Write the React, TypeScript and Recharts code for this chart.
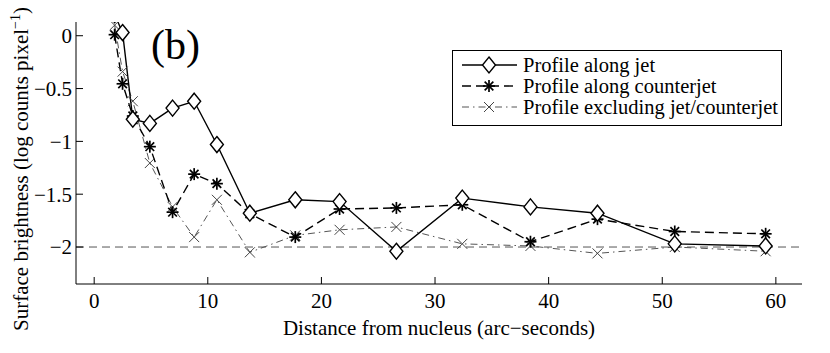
import React from 'react';
import { LineChart, Line, XAxis, YAxis, ReferenceLine, Legend, Label } from 'recharts';

const distance = [1.8, 2.5, 3.4, 4.9, 6.9, 8.8, 10.8, 13.7, 17.7, 21.6, 26.6, 32.4, 38.4, 44.3, 51.1, 59.1];
const jetProfile = [0.2, 0.03, -0.79, -0.83, -0.685, -0.62, -1.03, -1.68, -1.553, -1.57, -2.04, -1.537, -1.62, -1.68, -1.97, -1.99];
const counterjetProfile = [0.01, -0.455, -0.76, -1.05, -1.67, -1.31, -1.4, -1.685, -1.906, -1.64, -1.63, -1.6, -1.95, -1.736, -1.853, -1.875];
const excludingProfile = [0.1, -0.34, -0.62, -1.205, -1.62, -1.906, -1.553, -2.05, -1.89, -1.837, -1.81, -1.97, -1.99, -2.06, -2.0, -2.04];
const xTicks = [0, 10, 20, 30, 40, 50, 60];
const yTicks = [-2, -1.5, -1, -0.5, 0];
const backgroundLevel = -2;
const seriesNames = ['Profile along jet', 'Profile along counterjet', 'Profile excluding jet/counterjet'];

const font = 'Times New Roman, Liberation Serif, Times, serif';

const rows = distance.map((d, i) => ({
  d,
  jet: jetProfile[i],
  counterjet: counterjetProfile[i],
  excluding: excludingProfile[i],
}));

const fmtY = (v: number) => (v === 0 ? '0' : '\u2212' + Math.abs(v));

const Diamond = ({ cx, cy }: any) => (
  <polygon
    points={`${cx},${cy - 8} ${cx + 6.5},${cy} ${cx},${cy + 8} ${cx - 6.5},${cy}`}
    fill="#fff"
    stroke="#000"
    strokeWidth={1.4}
  />
);

const Star = ({ cx, cy }: any) => {
  const r = 6;
  const d = r * 0.72;
  return (
    <g stroke="#000" strokeWidth={1.7}>
      <line x1={cx - r} y1={cy} x2={cx + r} y2={cy} />
      <line x1={cx} y1={cy - r} x2={cx} y2={cy + r} />
      <line x1={cx - d} y1={cy - d} x2={cx + d} y2={cy + d} />
      <line x1={cx - d} y1={cy + d} x2={cx + d} y2={cy - d} />
    </g>
  );
};

const Cross = ({ cx, cy }: any) => {
  const r = 5;
  return (
    <g stroke="#444" strokeWidth={1}>
      <line x1={cx - r} y1={cy - r} x2={cx + r} y2={cy + r} />
      <line x1={cx - r} y1={cy + r} x2={cx + r} y2={cy - r} />
    </g>
  );
};

const styles = [
  { stroke: '#000', width: 1.4, dash: undefined as string | undefined, Marker: Diamond },
  { stroke: '#000', width: 1.4, dash: '9 5', Marker: Star },
  { stroke: '#555', width: 1, dash: '7 4 1.5 4', Marker: Cross },
];

const LegendBox = () => (
  <svg width={330} height={76} style={{ display: 'block' }}>
    <rect x={0.5} y={0.5} width={329} height={75} fill="#fff" stroke="#000" />
    {seriesNames.map((name, i) => {
      const cy = 15 + i * 21;
      const s = styles[i];
      const M = s.Marker;
      return (
        <g key={name}>
          <line x1={10} x2={65} y1={cy} y2={cy} stroke={s.stroke} strokeWidth={s.width} strokeDasharray={s.dash} />
          <M cx={37} cy={cy} />
          <text x={71} y={cy + 6.5} fontSize={20.5} fontFamily={font} fill="#000">
            {name}
          </text>
        </g>
      );
    })}
  </svg>
);

const YTitle = ({ viewBox }: any) => {
  const cy = viewBox.y + viewBox.height / 2 + 16;
  const x = 28;
  return (
    <text transform={`rotate(-90, ${x}, ${cy})`} x={x} y={cy} textAnchor="middle" fontSize={21} fontFamily={font} fill="#000">
      Surface brightness (log counts pixel
      <tspan dy={-8} fontSize={14}>{'\u22121'}</tspan>
      <tspan dy={8}>)</tspan>
    </text>
  );
};

const tickStyle = { fill: '#000', fontSize: 21, fontFamily: font };

export default function App() {
  return (
    <div style={{ position: 'absolute', left: 0, top: 0, background: '#fff' }}>
      <LineChart width={830} height={353} data={rows} margin={{ top: 22, right: 28, bottom: 0, left: 0 }}>
        <XAxis
          dataKey="d"
          type="number"
          domain={[-1.6, 62.3]}
          ticks={xTicks}
          interval={0}
          allowDataOverflow
          height={69}
          tickSize={-7}
          tickMargin={16}
          stroke="#000"
          tick={tickStyle}
        >
          <Label value={'Distance from nucleus (arc\u2212seconds)'} position="insideBottom" offset={18} fontSize={21} fontFamily={font} fill="#000" />
        </XAxis>
        <XAxis
          xAxisId="top"
          orientation="top"
          dataKey="d"
          type="number"
          domain={[-1.6, 62.3]}
          ticks={xTicks}
          interval={0}
          allowDataOverflow
          mirror
          height={0}
          tickSize={7}
          stroke="#000"
          tickFormatter={() => ''}
        />
        <YAxis
          type="number"
          domain={[-2.35, 0.13]}
          ticks={yTicks}
          interval={0}
          allowDataOverflow
          width={76}
          tickSize={-7}
          tickMargin={11}
          stroke="#000"
          tick={tickStyle}
          tickFormatter={fmtY}
        >
          <Label content={YTitle} />
        </YAxis>
        <YAxis
          yAxisId="right"
          orientation="right"
          type="number"
          domain={[-2.35, 0.13]}
          ticks={yTicks}
          interval={0}
          allowDataOverflow
          mirror
          width={0}
          tickSize={7}
          stroke="#000"
          tickFormatter={() => ''}
        />
        <ReferenceLine y={backgroundLevel} stroke="#555" strokeWidth={1} strokeDasharray="8 5" />
        <Line
          dataKey="excluding"
          stroke={styles[2].stroke}
          strokeWidth={styles[2].width}
          strokeDasharray={styles[2].dash}
          dot={(p: any) => <Cross key={`x-${p.index}`} cx={p.cx} cy={p.cy} />}
          isAnimationActive={false}
        />
        <Line
          dataKey="counterjet"
          stroke={styles[1].stroke}
          strokeWidth={styles[1].width}
          strokeDasharray={styles[1].dash}
          dot={(p: any) => <Star key={`s-${p.index}`} cx={p.cx} cy={p.cy} />}
          isAnimationActive={false}
        />
        <Line
          dataKey="jet"
          stroke={styles[0].stroke}
          strokeWidth={styles[0].width}
          dot={(p: any) => <Diamond key={`d-${p.index}`} cx={p.cx} cy={p.cy} />}
          isAnimationActive={false}
        />
        <Legend
          layout="horizontal"
          verticalAlign="middle"
          align="center"
          content={LegendBox}
          wrapperStyle={{ position: 'absolute', left: 452, top: 50, width: 330, height: 76 }}
        />
      </LineChart>
      <div
        style={{
          position: 'absolute',
          left: 151,
          top: 21,
          fontFamily: font,
          fontSize: 42,
          lineHeight: '48px',
          color: '#000',
        }}
      >
        (b)
      </div>
    </div>
  );
}
